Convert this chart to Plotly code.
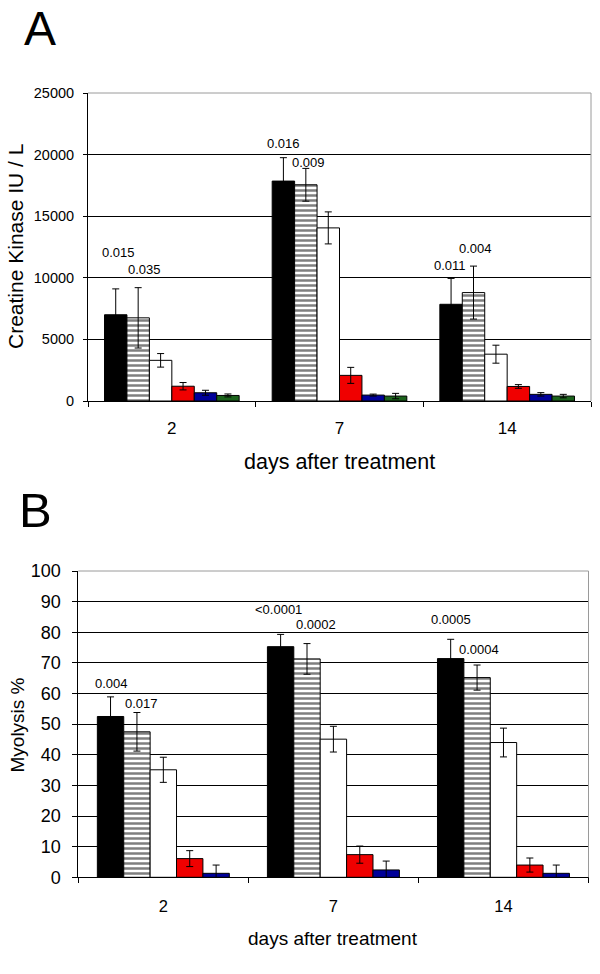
import plotly.graph_objects as go

# ---------------- data ----------------
days = ["2", "7", "14"]

# Panel A: Creatine Kinase IU / L
ck_black = [7000, 17850, 7850]
ck_black_err = [2100, 1900, 2100]
ck_hatch = [6750, 17550, 8800]
ck_hatch_err = [2450, 1330, 2150]
ck_white = [3300, 14050, 3800]
ck_white_err = [550, 1300, 730]
ck_red = [1200, 2080, 1180]
ck_red_err = [300, 650, 150]
ck_blue = [670, 480, 540]
ck_blue_err = [200, 80, 140]
ck_green = [450, 400, 400]
ck_green_err = [120, 220, 140]
ck_pvals = ["0.015", "0.035", "0.016", "0.009", "0.011", "0.004"]

# Panel B: Myolysis %
my_black = [52.5, 75.3, 71.4]
my_black_err = [6.4, 4.0, 6.3]
my_hatch = [47.5, 71.3, 65.2]
my_hatch_err = [6.3, 5.0, 4.1]
my_white = [35.1, 45.1, 44.0]
my_white_err = [4.1, 4.2, 4.7]
my_red = [6.1, 7.4, 4.0]
my_red_err = [2.6, 2.8, 2.3]
my_blue = [1.3, 2.4, 1.3]
my_blue_err = [2.7, 2.9, 2.7]
my_pvals = ["0.004", "0.017", "<0.0001", "0.0002", "0.0005", "0.0004"]

# ---------------- layout helpers (positions / styles) ----------------
FONT = "Arial, Liberation Sans, sans-serif"
W, H = 600, 974

# p-value label positions (category index offset, value)
ck_pval_x = [-0.319, -0.164, 0.666, 0.813, 1.659, 1.814]
ck_pval_y = [12020, 10640, 20870, 19350, 10990, 12340]
my_pval_x = [-0.304, -0.131, 0.676, 0.898, 1.692, 1.857]
my_pval_y = [63.4, 56.6, 87.4, 82.4, 84.1, 74.5]

styles = [
    dict(color="black", pattern=None),
    dict(color="white", pattern=dict(shape="-", fgcolor="black", bgcolor="white", size=5, solidity=0.5)),
    dict(color="white", pattern=None),
    dict(color="#f00000", pattern=None),
    dict(color="#000099", pattern=None),
    dict(color="#1c631c", pattern=None),
]

fig = go.Figure()


def add_bars(series, errs, xa, ya, total_w):
    n = len(series)
    bw = total_w / n
    for i, (vals, e) in enumerate(zip(series, errs)):
        st = styles[i]
        marker = dict(color=st["color"], line=dict(color="black", width=1))
        if st["pattern"]:
            marker["pattern"] = st["pattern"]
        fig.add_trace(go.Bar(
            x=days, y=vals, xaxis=xa, yaxis=ya,
            width=bw, offset=-total_w / 2 + i * bw,
            marker=marker,
            error_y=dict(type="data", array=e, visible=True, color="black", thickness=1, width=3.5),
            showlegend=False, hoverinfo="skip",
        ))


add_bars([ck_black, ck_hatch, ck_white, ck_red, ck_blue, ck_green],
         [ck_black_err, ck_hatch_err, ck_white_err, ck_red_err, ck_blue_err, ck_green_err],
         "x", "y", 0.803)
add_bars([my_black, my_hatch, my_white, my_red, my_blue],
         [my_black_err, my_hatch_err, my_white_err, my_red_err, my_blue_err],
         "x2", "y2", 0.776)

# domains in pixels
top_x = (88, 591)
top_y = (93, 401)
bot_x = (78.3, 588.5)
bot_y = (571, 877.3)

fig.update_layout(
    width=W, height=H, autosize=False,
    margin=dict(l=0, r=0, t=0, b=0, pad=0),
    paper_bgcolor="white", plot_bgcolor="white",
    barmode="overlay",
    font=dict(family=FONT, color="black"),
    xaxis=dict(domain=[top_x[0] / W, top_x[1] / W], anchor="y", type="category",
               tickson="boundaries", ticks="outside", ticklen=5, tickcolor="black",
               showline=True, linecolor="black", linewidth=1, showgrid=False,
               tickfont=dict(size=17), ticklabelstandoff=12, range=[-0.5, 2.5],
               automargin=False),
    yaxis=dict(domain=[1 - top_y[1] / H, 1 - top_y[0] / H], anchor="x",
               range=[0, 25000], tickvals=[0, 5000, 10000, 15000, 20000, 25000],
               tickformat="d",
               ticks="outside", ticklen=4, tickcolor="black",
               showline=True, linecolor="black", linewidth=1,
               showgrid=True, gridcolor="black", gridwidth=1, zeroline=False,
               tickfont=dict(size=14.5), ticklabelstandoff=6, automargin=False),
    xaxis2=dict(domain=[bot_x[0] / W, bot_x[1] / W], anchor="y2", type="category",
                tickson="boundaries", ticks="outside", ticklen=5, tickcolor="black",
                showline=True, linecolor="black", linewidth=1, showgrid=False,
                tickfont=dict(size=16.5), ticklabelstandoff=14, range=[-0.5, 2.5],
                automargin=False),
    yaxis2=dict(domain=[1 - bot_y[1] / H, 1 - bot_y[0] / H], anchor="x2",
                range=[0, 100], tickvals=list(range(0, 101, 10)),
                ticks="outside", ticklen=5, tickcolor="black",
                showline=True, linecolor="black", linewidth=1,
                showgrid=True, gridcolor="black", gridwidth=1, zeroline=False,
                tickfont=dict(size=18), ticklabelstandoff=8, automargin=False),
)

# gray plot-area border (top and right)
for xr, yr in (("x domain", "y domain"), ("x2 domain", "y2 domain")):
    fig.add_shape(type="line", xref=xr, yref=yr, x0=0, x1=1, y0=1, y1=1,
                  line=dict(color="#9a9a9a", width=1), layer="above")
    fig.add_shape(type="line", xref=xr, yref=yr, x0=1, x1=1, y0=0, y1=1,
                  line=dict(color="#9a9a9a", width=1), layer="above")

# p-values
for t, px, py in zip(ck_pvals, ck_pval_x, ck_pval_y):
    fig.add_annotation(x=px, y=py, xref="x", yref="y", text=t, showarrow=False,
                       font=dict(size=13), xanchor="center", yanchor="middle")
for t, px, py in zip(my_pvals, my_pval_x, my_pval_y):
    fig.add_annotation(x=px, y=py, xref="x2", yref="y2", text=t, showarrow=False,
                       font=dict(size=13), xanchor="center", yanchor="middle")

# panel letters
fig.add_annotation(x=40 / W, y=1 - 29 / H, xref="paper", yref="paper", text="A",
                   showarrow=False, font=dict(size=48), xanchor="center", yanchor="middle")
fig.add_annotation(x=35 / W, y=1 - 510 / H, xref="paper", yref="paper", text="B",
                   showarrow=False, font=dict(size=49), xanchor="center", yanchor="middle")

# axis titles
fig.add_annotation(x=15 / W, y=1 - 247 / H, xref="paper", yref="paper",
                   text="Creatine Kinase IU / L", textangle=-90, showarrow=False,
                   font=dict(size=21), xanchor="center", yanchor="middle")
fig.add_annotation(x=16.5 / W, y=1 - 725 / H, xref="paper", yref="paper",
                   text="Myolysis %", textangle=-90, showarrow=False,
                   font=dict(size=19), xanchor="center", yanchor="middle")
fig.add_annotation(x=339.5 / W, y=1 - 461.7 / H, xref="paper", yref="paper",
                   text="days after treatment", showarrow=False,
                   font=dict(size=21.5), xanchor="center", yanchor="middle")
fig.add_annotation(x=333.4 / W, y=1 - 938.4 / H, xref="paper", yref="paper",
                   text="days after treatment", showarrow=False,
                   font=dict(size=19), xanchor="center", yanchor="middle")

fig.write_html(
    "out.html",
    config={"responsive": False, "displayModeBar": False},
    post_script="document.body.style.margin='0';document.body.style.overflow='hidden';",
)
